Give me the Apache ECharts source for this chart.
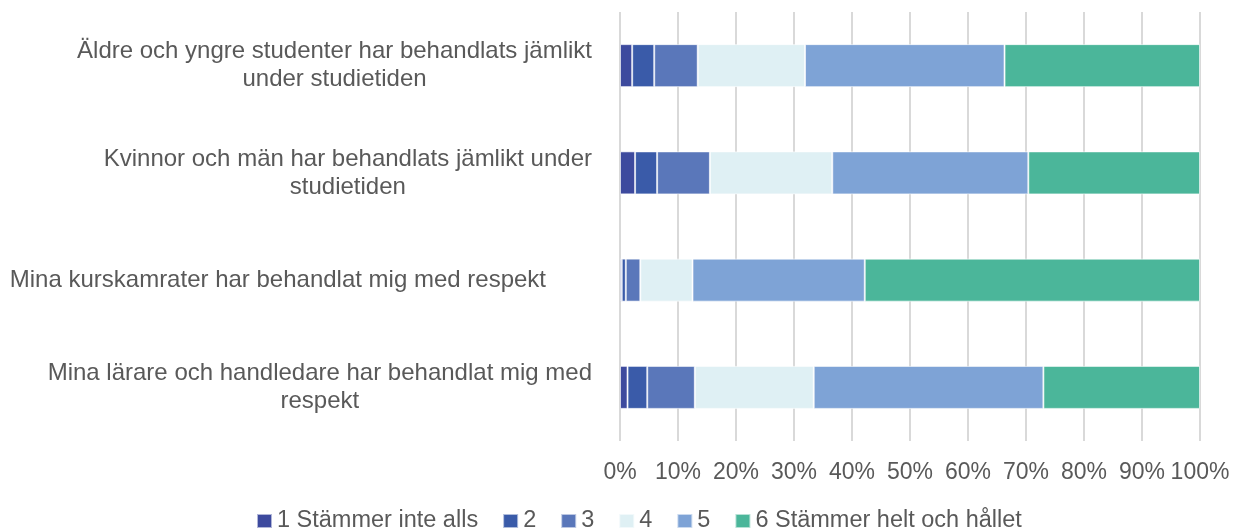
<!DOCTYPE html>
<html>
<head>
<meta charset="utf-8">
<script src="https://cdn.jsdelivr.net/npm/echarts@6/dist/echarts.min.js"></script>
<style>
html,body{margin:0;padding:0;background:#fff;}
#chart{width:1239px;height:532px;}
</style>
</head>
<body>
<div id="chart"></div>
<script>
var categories = [
  "Äldre och yngre studenter har behandlats jämlikt\nunder studietiden",
  "Kvinnor och män har behandlats jämlikt under\nstudietiden",
  "Mina kurskamrater har behandlat mig med respekt",
  "Mina lärare och handledare har behandlat mig med\nrespekt"
];
var seriesNames = ["1 Stämmer inte alls", "2", "3", "4", "5", "6 Stämmer helt och hållet"];
var s1 = [2.1, 2.6, 0.3, 1.3];
var s2 = [3.8, 3.8, 0.7, 3.4];
var s3 = [7.5, 9.1, 2.5, 8.2];
var s4 = [18.5, 21.1, 9.0, 20.5];
var s5 = [34.4, 33.8, 29.7, 39.6];
var s6 = [33.7, 29.6, 57.8, 27.0];
var tickValues = [0, 10, 20, 30, 40, 50, 60, 70, 80, 90, 100];

var colors = ["#3D4A9E", "#3A5BA9", "#5A77BA", "#DFF0F4", "#7EA3D6", "#4BB69A"];
var seriesData = [s1, s2, s3, s4, s5, s6];
var textColor = "#595959";
var font = "'Liberation Sans', Arial, sans-serif";

var chart = echarts.init(document.getElementById('chart'), null, {renderer: 'canvas'});
var option = {
  animation: false,
  color: colors,
  grid: {left: 620, right: 39, top: 12, bottom: 91, containLabel: false},
  legend: {
    left: 256, top: 509, padding: 0,
    itemWidth: 15, itemHeight: 14, itemGap: 24,
    icon: 'rect',
    textStyle: {color: textColor, fontSize: 23.5, fontFamily: font},
    data: seriesNames
  },
  xAxis: {
    type: 'value', min: 0, max: 100, interval: 10,
    axisLine: {show: false}, axisTick: {show: false},
    splitLine: {show: true, lineStyle: {color: '#d9d9d9', width: 2}},
    axisLabel: {
      color: textColor, fontSize: 23, fontFamily: font, margin: 20,
      formatter: function (v) { return tickValues.indexOf(v) >= 0 ? v + '%' : ''; }
    }
  },
  yAxis: {
    type: 'category', inverse: true, data: categories,
    axisLine: {show: false}, axisTick: {show: false},
    axisLabel: {
      margin: 28,
      formatter: function (v, i) {
        var key = (v.indexOf('\n') < 0) ? 'single' : 'multi';
        return v.split('\n').map(function (line) { return '{' + key + '|' + line + '}'; }).join('\n');
      },
      rich: {
        multi: {align: 'center', color: textColor, fontSize: 24, fontFamily: font, lineHeight: 28},
        single: {align: 'center', color: textColor, fontSize: 24, fontFamily: font, lineHeight: 28, padding: [0, 46, 0, 0]}
      }
    }
  },
  series: seriesNames.map(function (name, k) {
    return {
      name: name, type: 'bar', stack: 'total', barWidth: 43,
      itemStyle: {color: colors[k], borderColor: 'rgba(255,255,255,0.6)', borderWidth: 1},
      data: seriesData[k]
    };
  })
};
chart.setOption(option);
</script>
</body>
</html>
